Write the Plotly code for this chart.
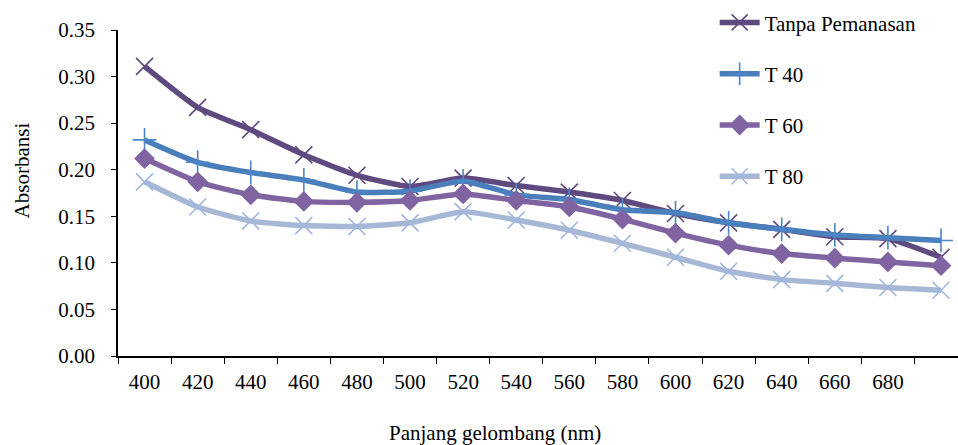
import plotly.graph_objects as go

wavelength_labels = ["400", "420", "440", "460", "480", "500", "520", "540", "560",
                     "580", "600", "620", "640", "660", "680", " "]

tanpa = [0.311, 0.267, 0.243, 0.216, 0.194, 0.182, 0.191, 0.183, 0.176,
         0.167, 0.153, 0.143, 0.136, 0.128, 0.126, 0.106]
t40 = [0.232, 0.208, 0.197, 0.189, 0.176, 0.177, 0.188, 0.173, 0.168,
       0.157, 0.154, 0.143, 0.136, 0.130, 0.127, 0.124]
t60 = [0.212, 0.187, 0.173, 0.166, 0.165, 0.167, 0.174, 0.167, 0.160,
       0.147, 0.132, 0.119, 0.110, 0.105, 0.101, 0.097]
t80 = [0.187, 0.160, 0.145, 0.140, 0.139, 0.143, 0.155, 0.146, 0.135,
       0.121, 0.106, 0.091, 0.082, 0.078, 0.0735, 0.0706]

series = [
    ("Tanpa Pemanasan", tanpa, "#5F4A80", "x-thin", "#5F4A80", 17),
    ("T 40", t40, "#4A7EBB", "cross-thin", "#4A86C8", 17),
    ("T 60", t60, "#8064A2", "diamond", "#8064A2", 16),
    ("T 80", t80, "#A6B8D6", "x-thin", "#A0B6DE", 17),
]

FONT = "Liberation Serif, Times New Roman, serif"
FS = 21

fig = go.Figure()
for i, (name, vals, color, sym, mcolor, msize) in enumerate(series):
    marker = dict(symbol=sym, size=msize, color=mcolor,
                  line=dict(color=mcolor, width=1.6))
    if sym == "diamond":
        marker = dict(symbol=sym, size=msize, color=mcolor, line=dict(width=0))
    fig.add_trace(go.Scatter(
        x=wavelength_labels, y=vals, name=name, mode="lines+markers",
        line=dict(color=color, width=5.5, shape="spline", smoothing=0.5),
        marker=marker, legendgroup=f"g{i}",
    ))

fig.update_layout(
    width=958, height=445,
    margin=dict(l=118, r=0, t=30, b=89, autoexpand=False),
    paper_bgcolor="white", plot_bgcolor="white",
    font=dict(family=FONT, size=FS, color="black"),
    showlegend=True,
    legend=dict(xref="container", yref="container",
                x=0.746, xanchor="left", y=0.995, yanchor="top",
                traceorder="grouped", tracegroupgap=21,
                font=dict(family=FONT, size=FS, color="black"),
                bgcolor="rgba(0,0,0,0)", itemwidth=40),
    xaxis=dict(type="category", range=[-0.5, 15.32], tickson="boundaries",
               ticks="outside", ticklen=6, tickcolor="black", tickwidth=1,
               showline=True, linecolor="black", linewidth=1.5,
               showgrid=False, zeroline=False, ticklabelstandoff=6,
               automargin=False, tickfont=dict(family=FONT, size=FS)),
    yaxis=dict(range=[0, 0.35], dtick=0.05, tickformat=".2f",
               ticks="outside", ticklen=5, tickcolor="black", tickwidth=1,
               showline=True, linecolor="black", linewidth=1.5,
               showgrid=False, zeroline=False, ticklabelstandoff=12,
               automargin=False, tickfont=dict(family=FONT, size=FS)),
    annotations=[
        dict(text="Panjang gelombang (nm)", xref="paper", yref="paper",
             x=0.449, y=-0.237, xanchor="center", yanchor="middle",
             showarrow=False, font=dict(family=FONT, size=FS)),
        dict(text="Absorbansi", xref="paper", yref="paper",
             x=-0.114, y=0.57, xanchor="center", yanchor="middle",
             textangle=-90, showarrow=False, font=dict(family=FONT, size=FS)),
    ],
)

fig.write_html("out.html",
               config={"displayModeBar": False},
               post_script="document.body.style.margin='0';document.body.style.overflow='hidden';")
